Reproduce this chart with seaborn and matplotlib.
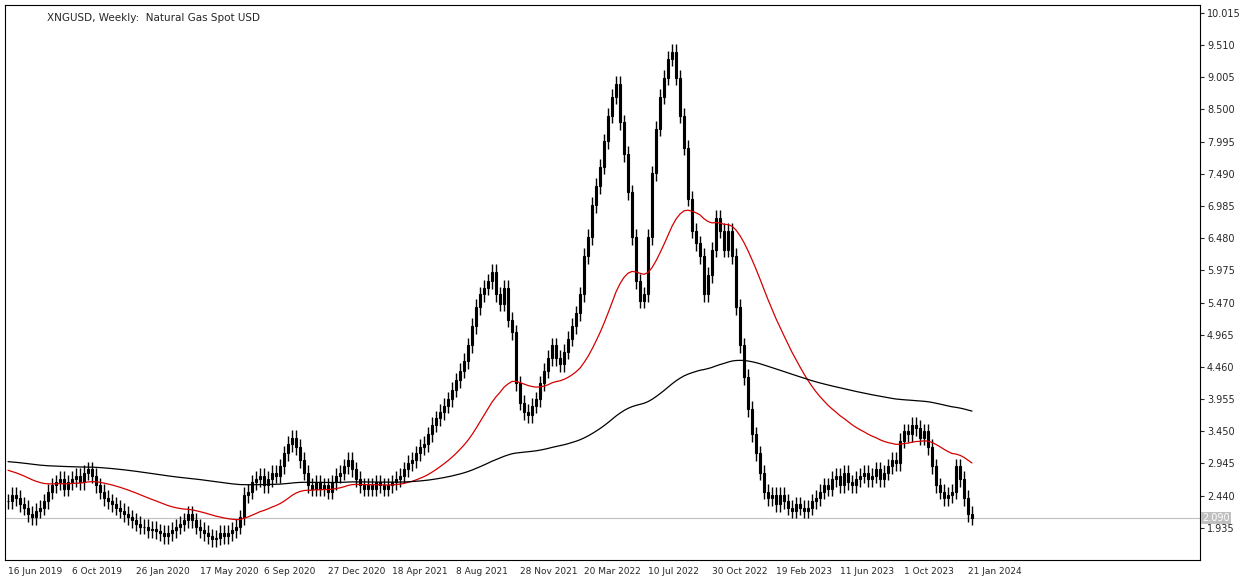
import numpy as np
import pandas as pd
import matplotlib
matplotlib.use("Agg")
import matplotlib.pyplot as plt
import seaborn as sns

history = [3.0,2.95,2.9,2.95,2.9,2.85,2.9,2.95,3.0,3.05,3.0,2.95,2.9,2.95,3.0,2.95,2.9,2.85,2.9,3.0,3.05,3.1,2.95,2.8,2.75,2.9,
           2.95,3.2,3.5,3.1,2.8,2.7,2.65,2.7,2.75,2.7,2.8,2.75,2.7,2.7,2.75,2.8,2.8,2.85,2.85,2.9,2.9,2.95,2.95,2.9,2.9,2.95,
           2.85,2.8,2.8,2.85,2.9,2.95,2.95,2.9,2.85,2.95,3.0,3.05,3.1,3.2,3.3,3.2,3.5,4.2,4.6,4.3,4.4,4.1,3.8,3.6,3.5,3.0,
           3.0,3.1,3.2,3.0,2.8,2.65,2.6,2.7,2.8,2.85,2.75,2.7,2.65,2.6,2.55,2.6,2.55,2.5,2.55,2.45,2.4,2.35]
closes = [2.35,2.45,2.40,2.30,2.25,2.15,2.10,2.20,2.25,2.35,
          2.50,2.60,2.65,2.70,2.55,2.65,2.70,2.75,2.65,2.80,
          2.85,2.75,2.60,2.50,2.40,2.35,2.30,2.25,2.20,2.15,
          2.10,2.05,2.00,1.95,1.95,1.90,1.92,1.88,1.85,1.80,
          1.85,1.90,1.95,2.00,2.05,2.15,2.05,1.95,1.90,1.85,
          1.80,1.75,1.78,1.85,1.80,1.85,1.90,1.95,2.10,2.45,
          2.50,2.65,2.70,2.75,2.60,2.70,2.80,2.75,2.90,3.10,
          3.25,3.35,3.20,3.00,2.80,2.60,2.55,2.65,2.55,2.60,
          2.50,2.65,2.75,2.80,2.90,3.00,2.85,2.70,2.60,2.55,
          2.60,2.55,2.65,2.60,2.55,2.60,2.65,2.70,2.75,2.85,
          2.95,3.00,3.10,3.20,3.25,3.40,3.55,3.65,3.75,3.85,
          3.95,4.10,4.25,4.40,4.55,4.80,5.10,5.40,5.60,5.70,
          5.80,5.95,5.60,5.45,5.70,5.20,5.00,4.20,3.90,3.75,
          3.70,3.85,3.95,4.20,4.40,4.60,4.80,4.60,4.50,4.70,
          4.90,5.10,5.30,5.60,6.20,6.50,7.00,7.30,7.60,8.00,
          8.40,8.70,8.90,8.30,7.80,7.20,6.50,5.80,5.50,5.60,
          6.50,7.50,8.20,8.70,9.00,9.30,9.40,9.00,8.40,7.90,
          7.10,6.60,6.40,6.20,5.60,5.90,6.30,6.80,6.60,6.30,
          6.60,6.20,5.40,4.80,4.30,3.80,3.40,3.10,2.80,2.50,
          2.40,2.45,2.30,2.45,2.35,2.25,2.20,2.30,2.25,2.20,
          2.25,2.35,2.40,2.50,2.60,2.55,2.70,2.75,2.60,2.80,
          2.65,2.60,2.70,2.75,2.80,2.70,2.75,2.85,2.70,2.80,
          2.90,3.00,2.95,3.30,3.45,3.40,3.55,3.50,3.35,3.45,
          3.20,2.90,2.60,2.50,2.40,2.45,2.50,2.90,2.70,2.40,
          2.15,2.09]
wick = 0.12
tick_weeks = [0,16,32,48,64,80,96,112,128,144,160,176,192,208,224,240]
tick_labels = ["16 Jun 2019","6 Oct 2019","26 Jan 2020","17 May 2020","6 Sep 2020","27 Dec 2020",
               "18 Apr 2021","8 Aug 2021","28 Nov 2021","20 Mar 2022","10 Jul 2022","30 Oct 2022",
               "19 Feb 2023","11 Jun 2023","1 Oct 2023","21 Jan 2024"]
y_ticks = [1.935,2.440,2.945,3.450,3.955,4.460,4.965,5.470,5.975,6.480,6.985,7.490,7.995,8.500,9.005,9.510,10.015]

sns.set_style("white")
plt.rcParams['font.family'] = ['DejaVu Sans']

allc = pd.Series(history + closes)
n_h = len(history)
red = allc.ewm(span=40, adjust=False).mean().iloc[n_h:].values
black = allc.ewm(span=200, adjust=False).mean().iloc[n_h:].values

c = np.array(closes)
o = np.r_[history[-1], c[:-1]]
x = np.arange(len(c))
hi = np.maximum(o, c) + wick
lo = np.minimum(o, c) - wick

fig = plt.figure(figsize=(12.51, 5.83), dpi=100)
ax = fig.add_axes([5/1251, 23/583, 1195/1251, 555/583])
ax.vlines(x, lo, hi, color="black", lw=1)
up = c >= o
ax.bar(x[up], (c-o)[up], bottom=o[up], width=0.7, color="white", edgecolor="black", lw=0.8)
ax.bar(x[~up], (o-c)[~up], bottom=c[~up], width=0.7, color="black", edgecolor="black", lw=0.8)
sns.lineplot(x=x, y=red, ax=ax, color="#d40000", lw=0.9)
sns.lineplot(x=x, y=black, ax=ax, color="black", lw=0.9)
ax.axhline(closes[-1], color="#c0c0c0", lw=0.8, zorder=0)

ax.set_xlim(-0.75, 298)
ax.set_ylim(1.428, 10.14)
ax.yaxis.tick_right()
ax.set_yticks(y_ticks)
ax.set_yticklabels([f"{v:.3f}" for v in y_ticks], fontsize=7)
ax.set_xticks(tick_weeks)
ax.set_xticklabels(tick_labels, fontsize=6.5, ha="left")
ax.tick_params(length=3, pad=2)
for s in ax.spines.values():
    s.set_color("black"); s.set_linewidth(0.8)
ax.text(1.002, closes[-1], f"{closes[-1]:.3f}", transform=ax.get_yaxis_transform(), fontsize=7,
        color="white", va="center", bbox=dict(boxstyle="square,pad=0.1", fc="#c0c0c0", ec="none"))
ax.text(0.035, 0.985, "XNGUSD, Weekly:  Natural Gas Spot USD", transform=ax.transAxes, fontsize=7.5, va="top")
fig.savefig("out.png", dpi=100)
